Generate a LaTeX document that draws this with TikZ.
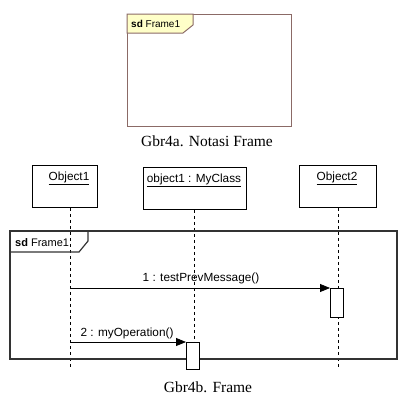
\documentclass[tikz,border=0pt]{standalone}
\usepackage{fontspec}
\setmainfont{Liberation Serif}
\setsansfont{Liberation Sans}
\usetikzlibrary{arrows.meta}
\definecolor{framebrown}{HTML}{8B6A66}
\definecolor{tabyellow}{HTML}{FFFFC8}
\definecolor{framegray}{HTML}{333333}
\begin{document}
\begin{tikzpicture}[x=1pt,y=-1pt,
  umltext/.style={font=\sffamily\fontsize{11.8}{14}\selectfont, inner sep=0pt},
  caption/.style={font=\fontsize{15.5}{18}\selectfont, inner sep=0pt},
  objbox/.style={draw, line width=0.8pt, fill=white, anchor=north west, inner sep=0pt},
  actbox/.style={draw, line width=0.8pt, fill=white, anchor=north west, inner sep=0pt, minimum width=13pt},
  lifeline/.style={line width=0.9pt, dash pattern=on 3pt off 3pt},
  msg/.style={line width=0.8pt, -{Triangle[length=10pt,width=8pt]}},
  frameline/.style={line width=1.2pt, draw=framegray}
]
\useasboundingbox (0,0) rectangle (407,402);
% ---------- Gbr4a ----------
\node[draw=framebrown, line width=1pt, anchor=north west, minimum width=164pt, minimum height=112pt, inner sep=0pt] (fa) at (127,14) {};
\filldraw[draw=framebrown, fill=tabyellow, line width=1pt] (127,14) -- (193,14) -- (193,25) -- (183,33) -- (127,33) -- cycle;
\node[umltext, anchor=west, font=\sffamily\fontsize{10}{12}\selectfont] (fat) at (131,24) {\textbf{sd} Frame1};
\node[caption] (capa) at (207,141) {Gbr4a. Notasi Frame};
% ---------- Gbr4b ----------
\node[objbox, minimum width=65pt, minimum height=42pt] (o1) at (32,165) {};
\node[objbox, minimum width=103pt, minimum height=42pt] (o2) at (143,167) {};
\node[objbox, minimum width=77pt, minimum height=42pt] (o3) at (299,165) {};
\node[umltext] (o1t) at (69,178) {\underline{Object1}};
\node[umltext] (o2t) at (194,180) {\underline{object1 : MyClass}};
\node[umltext] (o3t) at (337,178) {\underline{Object2}};
\coordinate (l1end) at (70,368);
\coordinate (l2end) at (194,368);
\coordinate (l3end) at (338,368);
\draw[lifeline] (o1.south -| l1end) -- (l1end);
\draw[lifeline] (o2.south -| l2end) -- (l2end);
\draw[lifeline] (o3.south -| l3end) -- (l3end);
% frame
\draw[frameline] (10,231) rectangle (397,359);
\draw[frameline] (10,252) -- (79,252) -- (88,241) -- (88,231);
\node[umltext, anchor=west, font=\sffamily\fontsize{11}{13}\selectfont] (fbt) at (15,243) {\textbf{sd} Frame1};
% activations
\node[actbox, minimum height=29pt] (act1) at (330,288) {};
\node[actbox, minimum height=27pt] (act2) at (186,342) {};
\coordinate (m1s) at (70,288);
\coordinate (m2s) at (70,342);
\draw[msg] (m1s) -- (act1.north west);
\draw[msg] (m2s) -- (act2.north west);
\node[umltext] (m1t) at (201,278) {1 : testPrevMessage()};
\node[umltext] (m2t) at (127,333) {2 : myOperation()};
\node[caption] (capb) at (208,387) {Gbr4b. Frame};
\end{tikzpicture}
\end{document}
